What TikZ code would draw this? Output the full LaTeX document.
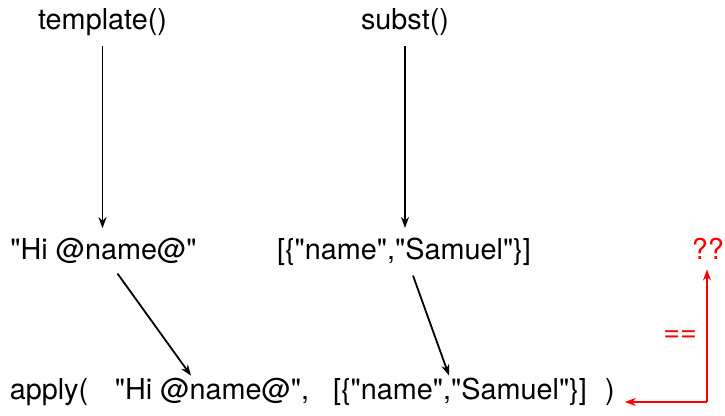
\documentclass[tikz,border=0pt]{standalone}
\usepackage{fontspec}
\newfontfamily\codefont{TeX Gyre Heros}
\usetikzlibrary{arrows.meta}
\tikzset{
  txt/.style={font=\codefont\fontsize{14.4}{17}\selectfont, inner sep=0pt, outer sep=5pt, anchor=base},
  flow/.style={-{Stealth[length=5.5pt,width=4pt]}, line width=0.9pt},
  cmp/.style={-{Stealth[length=5.5pt,width=4pt]}, line width=1.1pt, red},
}
\begin{document}
\begin{tikzpicture}[x=0.5pt,y=0.5pt]
            \useasboundingbox (0,0) rectangle (725,416);
            \node[txt] (tmpl) at (102.5,386) {template()};
            \node[txt] (subst) at (405,386) {subst()};
            \node[txt] (hi) at (103.5,156.5) {"Hi @name@"};
            \node[txt] (pair) at (404,156.5) {[\{"name","Samuel"\}]};
            \node[txt,red] (qq) at (708,156.5) {??};
            \node[txt] (apply) at (49,16) {apply(};
            \node[txt] (tmplarg) at (212,16) {"Hi @name@",};
            \node[txt] (substarg) at (460,16) {[\{"name","Samuel"\}]};
            \node[txt] (close) at (610,16) {)};
            \coordinate (corner) at (707,14);
            \draw[flow] (tmpl.south) -- (tmpl.south |- hi.north);
            \draw[flow] (subst.south) -- (subst.south |- pair.north);
            \draw[flow] ([xshift=7pt]hi.south) -- ([xshift=-10.5pt,yshift=-3.5pt]tmplarg.north);
            \draw[flow] ([xshift=4.5pt]pair.south) -- ([xshift=-5.5pt,yshift=-3.5pt]substarg.north);
            \draw[cmp] (corner) -- node[txt,anchor=east,red] {==} (corner |- qq.south);
            \draw[cmp] (corner) -- (corner -| close.east);
        \end{tikzpicture}
\end{document}
